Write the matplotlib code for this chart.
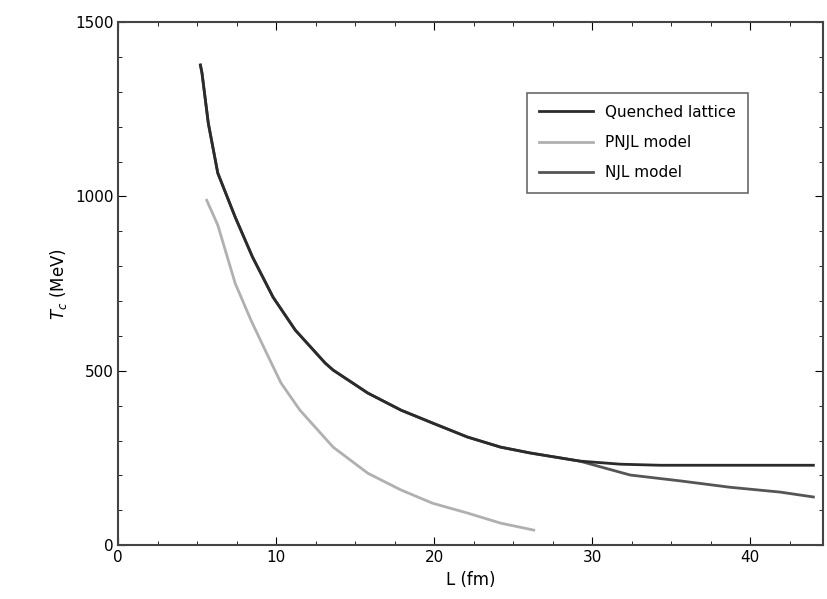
import matplotlib
matplotlib.use("Agg")
import matplotlib.pyplot as plt
from matplotlib.ticker import MultipleLocator

# values
L_main = [5.2, 5.3, 5.7, 6.3, 7.4, 8.5, 9.8, 11.2, 13.1, 13.6, 15.8, 17.9,
          19.9, 22.1, 24.2, 26.1, 29.2, 31.8, 34.3, 39.0, 44.0]
T_main = [1377, 1354, 1210, 1067, 941, 826, 711, 617, 522, 502, 436, 387,
          350, 310, 281, 264, 241, 232, 229, 229, 229]

L_pnjl = [5.6, 6.3, 7.4, 8.4, 9.3, 10.3, 11.5, 13.6, 15.8, 17.9, 19.9,
          22.1, 24.2, 26.3]
T_pnjl = [989, 918, 751, 645, 559, 465, 387, 281, 206, 158, 120,
          92, 63, 43]

L_njl = [5.2, 5.3, 5.7, 6.3, 7.4, 8.5, 9.8, 11.2, 13.1, 13.6, 15.8, 17.9,
         19.9, 22.1, 24.2, 26.1, 29.2, 32.4, 35.6, 38.7, 41.9, 44.0]
T_njl = [1377, 1354, 1210, 1067, 941, 826, 711, 617, 522, 502, 436, 387,
         350, 310, 281, 264, 241, 201, 184, 166, 152, 138]

labels = ["Quenched lattice", "PNJL model", "NJL model"]
x_ticks = [0, 10, 20, 30, 40]
y_ticks = [0, 500, 1000, 1500]

fig = plt.figure(figsize=(8.27, 5.99), dpi=100)
ax = fig.add_axes([0.143, 0.090, 0.852, 0.873])

ax.plot(L_njl, T_njl, color="#555555", lw=2.0, label=labels[2])
ax.plot(L_pnjl, T_pnjl, color="#b0b0b0", lw=2.0, label=labels[1])
ax.plot(L_main, T_main, color="#2b2b2b", lw=2.0, label=labels[0])

ax.set_xlim(0, 44.6)
ax.set_ylim(0, 1500)
ax.set_xticks(x_ticks)
ax.set_yticks(y_ticks)
ax.xaxis.set_minor_locator(MultipleLocator(2.5))
ax.yaxis.set_minor_locator(MultipleLocator(100))
ax.tick_params(which="both", direction="in", top=True, right=True)
ax.tick_params(which="major", length=6, labelsize=11)
ax.tick_params(which="minor", length=3)
for s in ax.spines.values():
    s.set_linewidth(1.5)
    s.set_color("#444444")

ax.set_xlabel("L (fm)", fontsize=12)
ax.set_ylabel("$T_c$ (MeV)", fontsize=12)

handles, names = ax.get_legend_handles_labels()
order = [2, 1, 0]
leg = ax.legend([handles[i] for i in order], [names[i] for i in order],
                loc="upper right", bbox_to_anchor=(0.905, 0.88), fontsize=11,
                frameon=True, fancybox=False, edgecolor="#444444",
                handlelength=3.5, borderpad=0.8, labelspacing=1.0)
leg.get_frame().set_linewidth(1.2)

fig.savefig("out.png", dpi=100)
plt.close(fig)
